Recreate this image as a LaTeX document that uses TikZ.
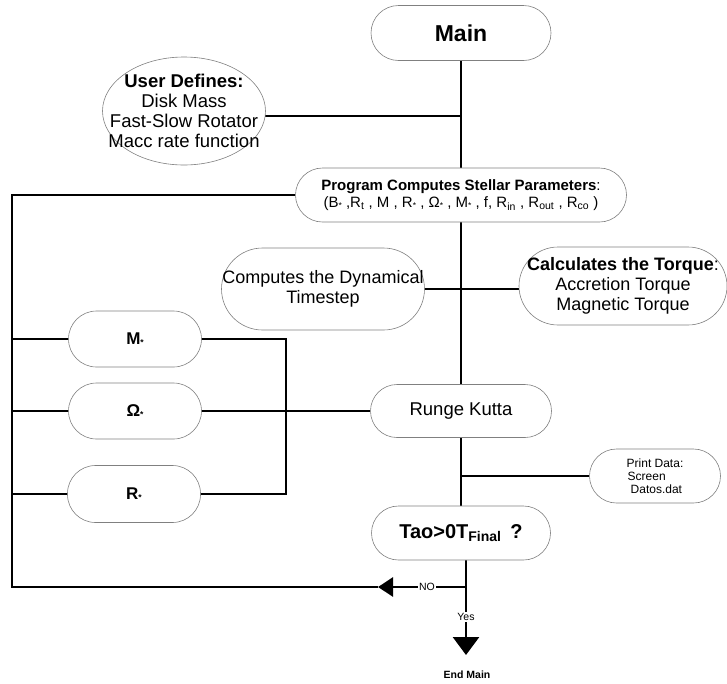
\documentclass[tikz,border=0pt]{standalone}
\usepackage{fontspec}
\setmainfont{Liberation Sans}
\usetikzlibrary{arrows.meta,backgrounds}
\newcommand{\fsz}[2]{\fontsize{#1}{#2}\selectfont}
\newcommand{\sstar}{{\fontsize{8.5}{8.5}\selectfont\raisebox{-0.3ex}{*}}}
\begin{document}
\begin{tikzpicture}[x=1pt,y=-1pt,
  box/.style={draw=black!50, line width=0.6pt, fill=white, inner sep=0pt, align=center},
  wire/.style={line width=2.7pt},
  lbl/.style={fill=white, inner sep=1.5pt, font=\fsz{10.5}{12}}]
\useasboundingbox (0,0) rectangle (727,683);
% nodes
\node[box, rounded corners=27.5pt, minimum width=180pt, minimum height=55pt, font=\bfseries\fsz{23}{26}] (main) at (461,33) {Main};
\path[draw=black!50, line width=0.6pt, fill=white] (184,111) ellipse [x radius=81.5pt, y radius=54pt];
\node[inner sep=0pt, align=center, font=\fsz{18.5}{20}] (user) at (184,111) {\textbf{User Defines:}\\Disk Mass\\Fast-Slow Rotator\\Macc rate function};
\node[box, rounded corners=27pt, minimum width=331pt, minimum height=54pt, font=\fsz{15}{17}] (prog) at (461,195)
  {\textbf{Program Computes Stellar Parameters}:\\(B\sstar\ ,R\textsubscript{t} , M , R\sstar\ , Ω\sstar\ , M\sstar\ , f, R\textsubscript{in} , R\textsubscript{out} , R\textsubscript{co} )};
\node[box, rounded corners=41pt, minimum width=203pt, minimum height=82pt, font=\fsz{18}{20}] (dyn) at (323,289) {Computes the Dynamical\\Timestep};
\node[box, rounded corners=39pt, minimum width=208pt, minimum height=78pt, font=\fsz{18}{20}] (torq) at (623,286) {\textbf{Calculates the Torque}:\\Accretion Torque\\Magnetic Torque};
\node[box, rounded corners=28pt, minimum width=133pt, minimum height=56pt, font=\bfseries\fsz{17}{20}] (mstar) at (135,339) {M\sstar};
\node[box, rounded corners=28pt, minimum width=133pt, minimum height=56pt, font=\bfseries\fsz{17}{20}] (ostar) at (135,411) {Ω\sstar};
\node[box, rounded corners=28pt, minimum width=133pt, minimum height=57pt, font=\bfseries\fsz{17}{20}] (rstar) at (134,494) {R\sstar};
\node[box, rounded corners=26.5pt, minimum width=181pt, minimum height=53pt, font=\fsz{18.5}{20}] (rk) at (461,411) {Runge Kutta};
\node[box, rounded corners=27pt, minimum width=131pt, minimum height=54pt, font=\fsz{12}{13}, align=left] (print) at (655,476) {Print Data:\\\hspace*{1pt}Screen\\\hspace*{4pt}Datos.dat};
\node[box, rounded corners=27pt, minimum width=179pt, minimum height=54pt, font=\bfseries\fsz{20}{22}] (tao) at (461,533) {Tao>0T\textsubscript{Final}\ \,?};
\coordinate (tl) at (12,195);
\coordinate (bl) at (12,587);
\coordinate (d) at (466,587);
\coordinate (arrtip) at (378,587);
\coordinate (endtip) at (466,655);
\coordinate (rx) at (286,400);
\node[lbl] (no) at (427,587) {NO};
\node[lbl] (yes) at (466,617) {Yes};
\node[font=\bfseries\fsz{10.5}{12}] (endmain) at (467,675) {End Main};
% wires
\begin{scope}[on background layer]
\draw[wire] (main) -- (prog);
\draw[wire] (prog) -- (rk);
\draw[wire] (rk) -- (tao);
\draw[wire] ([yshift=-5pt]user.center) -- ([yshift=-5pt]user.center -| main.center);
\draw[wire] (dyn) -- (dyn -| torq.center);
\draw[wire] (prog) -- (tl) -- (bl) -- (arrtip);
\draw[wire] (mstar) -- (mstar -| tl);
\draw[wire] (ostar) -- (ostar -| tl);
\draw[wire] (rstar) -- (rstar -| tl);
\draw[wire] (mstar) -| (rx) |- (rstar);
\draw[wire] (ostar) -- (rk);
\draw[wire] (print) -- (print -| tao);
\draw[wire] ([xshift=5pt]tao.center) -- (d);
\draw[wire, -{Triangle[length=15pt,width=19pt]}] (d) -- (arrtip);
\draw[wire, -{Triangle[length=18pt,width=26pt]}] (d) -- (endtip);
\end{scope}
\end{tikzpicture}
\end{document}
